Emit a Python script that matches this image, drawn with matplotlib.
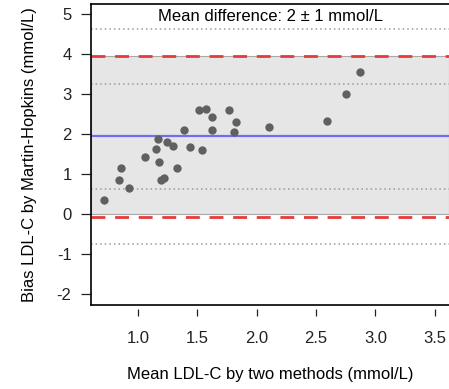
import matplotlib
matplotlib.use('Agg')
import matplotlib.pyplot as plt
import numpy as np

plt.rcParams['font.family'] = ['Liberation Sans', 'DejaVu Sans']
plt.rcParams['axes.unicode_minus'] = False

# Bland-Altman data
mean_ldl = [0.711, 0.840, 0.857, 0.924, 1.061, 1.166, 1.152, 1.177, 1.197, 1.219,
            1.244, 1.295, 1.329, 1.390, 1.435, 1.511, 1.570, 1.620, 1.536, 1.626,
            1.770, 1.823, 1.809, 2.101, 2.595, 2.752, 2.873]
bias = [0.35, 0.86, 1.16, 0.65, 1.42, 1.87, 1.62, 1.31, 0.85, 0.90,
        1.81, 1.70, 1.15, 2.11, 1.67, 2.61, 2.62, 2.44, 1.61, 2.11,
        2.61, 2.30, 2.05, 2.18, 2.34, 3.01, 3.56]

mean_diff = 1.95
loa_upper = 3.96
loa_lower = -0.07
ci_lines = [4.64, 3.26, 0.62, -0.76]
shade_range = [0.0, 3.96]

xticks = [1.0, 1.5, 2.0, 2.5, 3.0, 3.5]
yticks = [-2, -1, 0, 1, 2, 3, 4, 5]

fig = plt.figure(figsize=(4.49, 3.89), dpi=100)
ax = fig.add_axes([91 / 449, 84 / 389, 1 - 91 / 449, (305 - 4) / 389])

ax.axhspan(shade_range[0], shade_range[1], facecolor='#e6e6e6', edgecolor='#a8a8a8', lw=0.8, zorder=0)
for y in ci_lines:
    ax.axhline(y, color='#9a9a9a', lw=1.1, ls=(0, (1, 2)), zorder=1)
ax.axhline(mean_diff, color='#6e6ef0', lw=1.6, zorder=2)
ax.axhline(loa_upper, color='#e83a3a', lw=2.0, ls=(0, (5, 3.5)), zorder=2)
ax.axhline(loa_lower, color='#e83a3a', lw=2.0, ls=(0, (5, 3.5)), zorder=2)

ax.plot(mean_ldl, bias, 'o', color='#606060', ms=6, mec='none', zorder=3)

ax.text(2.116, 4.96, 'Mean difference: 2 \u00b1 1 mmol/L', ha='center', va='center', fontsize=12)

ax.set_xlim(0.604, 3.62)
ax.set_ylim(-2.276, 5.262)
ax.set_xticks(xticks)
ax.set_xticklabels(['%.1f' % v for v in xticks])
ax.set_yticks(yticks)

# R-like axes: x ticks detached from the box
ax.spines['right'].set_visible(False)
ax.spines['bottom'].set_position(('outward', 3))
ax.spines['bottom'].set_edgecolor('none')
ax.plot([0, 1], [0, 0], transform=ax.transAxes, color='black', lw=1.2, clip_on=False, zorder=5)
ax.spines['left'].set_linewidth(1.2)
ax.spines['top'].set_linewidth(1.2)

ax.tick_params(axis='x', length=5, width=0.9, pad=11, labelsize=12, colors='#222222')
ax.tick_params(axis='y', length=7, width=0.9, pad=7, labelsize=12, colors='#222222')

ax.set_xlabel('Mean LDL-C by two methods (mmol/L)', fontsize=12, labelpad=15)
ax.set_ylabel('Bias LDL-C by Martin-Hopkins (mmol/L)', fontsize=12, labelpad=14)

fig.savefig('out.png', dpi=100)
